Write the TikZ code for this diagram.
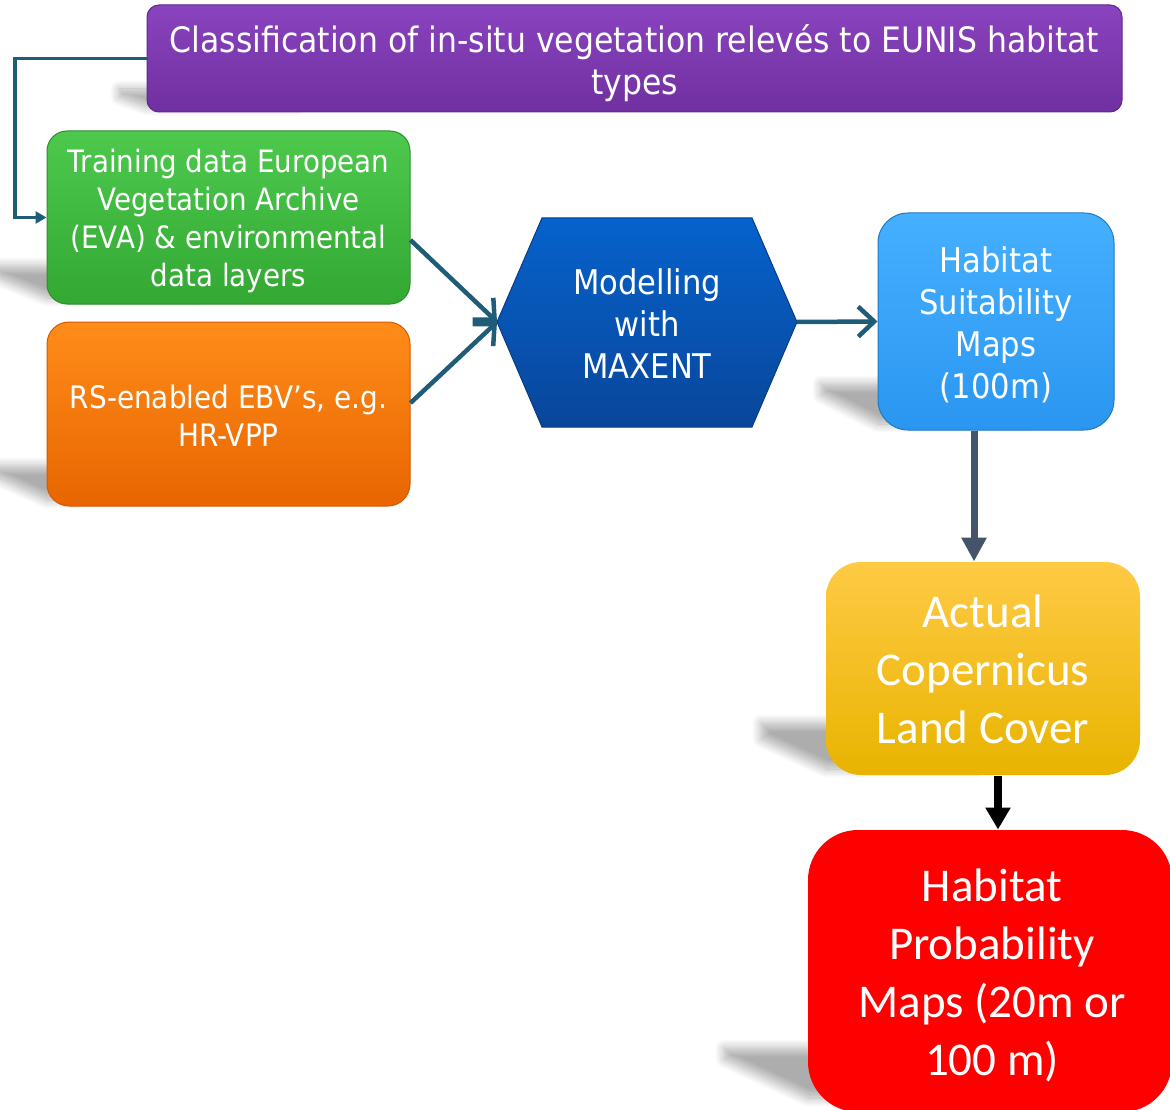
\documentclass[tikz,border=0pt]{standalone}
\usepackage{fontspec}
\newfontfamily\vfont[FakeStretch=0.9]{DejaVu Sans}
\newfontfamily\cfont{Carlito}
\usetikzlibrary{arrows.meta,shadows.blur}
\definecolor{purT}{HTML}{8A43BF}\definecolor{purB}{HTML}{7030A0}
\definecolor{grT}{HTML}{4DC94D}\definecolor{grB}{HTML}{33A833}
\definecolor{orT}{HTML}{FF8C1A}\definecolor{orB}{HTML}{E86500}
\definecolor{hexT}{HTML}{0662CC}\definecolor{hexB}{HTML}{09469A}
\definecolor{blT}{HTML}{45B0FF}\definecolor{blB}{HTML}{2B96F0}
\definecolor{yeT}{HTML}{FFCA45}\definecolor{yeB}{HTML}{E8B400}
\definecolor{tealA}{HTML}{1E5C78}
\definecolor{slateA}{HTML}{44546A}
\newcommand\pshadow[5]{%
  \path[blur shadow={shadow xshift=0pt, shadow yshift=0pt, shadow blur radius=9pt,
      shadow blur steps=12, shadow opacity=32}]
      (#1-#4+4,#2-#3+4) -- (#1+150,#2-#3+4) -- (#1+150,#2-4) -- (#1,#2-4) -- (#1-#4+4,#2-#3+#5) -- cycle;}
\begin{document}
\begin{tikzpicture}[x=1pt,y=-1pt,
  box/.style={inner sep=0pt, line width=1pt},
  lbl/.style={inner sep=0pt, align=center, text=white},
  conn/.style={draw=tealA, line width=4.5pt, -{Straight Barb[length=16pt,width=30pt]}}]
\useasboundingbox (0,0) rectangle (1170,1110);
% shadows
\pshadow{147}{111}{26}{32}{12}
\pshadow{47}{302}{40}{55}{15}
\pshadow{47}{504}{42}{55}{15}
\pshadow{878}{428}{48}{61}{15}
\pshadow{826}{773}{54}{69}{20}
\pshadow{808}{1102}{58}{88}{15}
% boxes
\node[box, rounded corners=12pt, top color=purT, bottom color=purB, draw=purB!85!black,
  minimum width=975pt, minimum height=107pt] (purple) at (634.5,58.5) {};
\node[lbl, font=\vfont\fontsize{35}{42}\selectfont] (purpleT) at ([yshift=-5pt]purple.center)
  {Classification of in-situ vegetation relevés to EUNIS habitat\\types};
\node[box, rounded corners=20pt, top color=grT, bottom color=grB, draw=grB!85!black,
  minimum width=363pt, minimum height=173pt] (green) at (228.5,217.5) {};
\node[lbl, font=\vfont\fontsize{30.8}{38}\selectfont] (greenT) at ([yshift=-4pt]green.center)
  {Training data European\\Vegetation Archive\\(EVA) \& environmental\\data layers};
\node[box, rounded corners=22pt, top color=orT, bottom color=orB, draw=orB!90!black,
  minimum width=363pt, minimum height=184pt] (orange) at (228.5,414) {};
\node[lbl, font=\vfont\fontsize{31}{38}\selectfont] (orangeT) at ([yshift=-2pt]orange.center)
  {RS-enabled EBV’s, e.g.\\HR-VPP};
\shade[top color=hexT, bottom color=hexB, draw=hexB!85!black, line width=1pt]
  (497,322) -- (542,218) -- (752,218) -- (797,322) -- (752,427) -- (542,427) -- cycle;
\coordinate (hexL) at (497,322);
\coordinate (hexR) at (797,322);
\node[lbl, font=\vfont\fontsize{34}{42}\selectfont] (hex) at (647,324) {Modelling\\with\\MAXENT};
\node[box, rounded corners=30pt, top color=blT, bottom color=blB, draw=blB!80!black,
  minimum width=236pt, minimum height=217pt] (blue) at (996,321.5) {};
\node[lbl, font=\vfont\fontsize{34}{42}\selectfont] (blueT) at ([yshift=-3pt]blue.center)
  {Habitat\\Suitability\\Maps\\(100m)};
\node[box, rounded corners=35pt, top color=yeT, bottom color=yeB,
  minimum width=314pt, minimum height=213pt] (yellow) at (983,668.5) {};
\node[lbl, font=\cfont\fontsize{47}{58}\selectfont] (yellowT) at ([yshift=-1pt]yellow.center)
  {Actual\\Copernicus\\Land Cover};
\node[box, rounded corners=50pt, fill=red,
  minimum width=364pt, minimum height=282pt] (red) at (990,971) {};
\node[lbl, font=\cfont\fontsize{47}{58}\selectfont] (redT) at ([xshift=2pt,yshift=-4pt]red.center)
  {Habitat\\Probability\\Maps (20m or\\100 m)};
% connectors
\coordinate (bend) at (15,58.5);
\draw[draw=tealA, line width=3.5pt, -{Triangle[length=11pt,width=12pt]}]
  (purple.west) -- (bend) |- (green.west);
\draw[conn] ([yshift=-22.5pt]green.east) -- (hexL);
\draw[conn] ([yshift=11pt]orange.east) -- (hexL);
\draw[conn] (hexR) -- (blue.west);
\coordinate (b1) at ([xshift=-22pt]blue.south);
\draw[draw=slateA, line width=7pt, -{Triangle[length=24pt,width=24pt]}] (b1) -- (b1 |- yellow.north);
\coordinate (y1) at ([xshift=15pt]yellow.south);
\draw[draw=black, line width=8pt, -{Triangle[length=22pt,width=24pt]}] (y1) -- (y1 |- red.north);
\end{tikzpicture}
\end{document}
